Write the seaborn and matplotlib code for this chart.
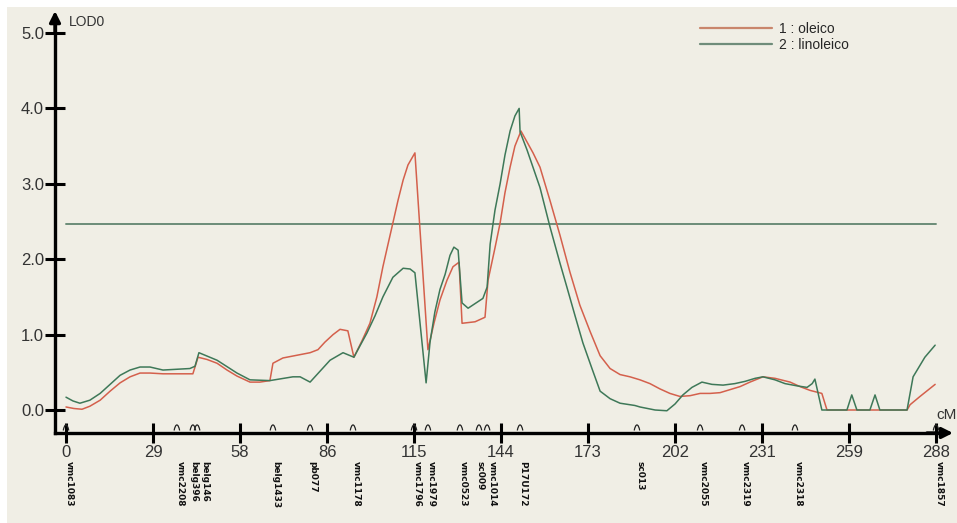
import numpy as np
import pandas as pd
import matplotlib
matplotlib.use("Agg")
import matplotlib.pyplot as plt
from matplotlib.patches import Rectangle
from matplotlib.path import Path
import seaborn as sns

# --- data (cM, LOD) ---
oleico_cm = [0, 2.6, 5.3, 7.9, 11.3, 14.6, 17.9, 21.2, 24.5, 27.8, 32.1, 42.0, 43.7, 46.7,
             50.0, 53.3, 56.6, 59.3, 60.9, 64.2, 67.5, 68.5, 71.8, 80.8, 83.4, 85.7, 88.4,
             90.7, 93.3, 95.3, 98.0, 100.6, 102.9, 104.9, 106.6, 108.2, 109.9, 111.6,
             113.2, 115.5, 119.8, 121.8, 123.8, 126.1, 128.1, 130.1, 131.1, 135.4, 138.7,
             139.7, 142.0, 143.7, 145.3, 147.0, 148.6, 150.6, 154.6, 156.9, 160.2, 163.5,
             166.8, 170.1, 173.5, 176.8, 180.1, 183.4, 186.7, 190.0, 193.3, 196.6, 199.9,
             203.2, 206.6, 209.9, 213.2, 216.5, 219.8, 223.1, 226.4, 230.7, 234.7, 239.7,
             243.0, 246.3, 250.2, 251.9, 278.4, 279.4, 282.7, 287.7]
oleico_lod = [0.04, 0.02, 0.01, 0.05, 0.13, 0.25, 0.36, 0.44, 0.49, 0.49, 0.48, 0.48, 0.70, 0.67,
              0.62, 0.53, 0.45, 0.40, 0.37, 0.37, 0.39, 0.62, 0.69, 0.76, 0.80, 0.90, 1.00,
              1.07, 1.05, 0.70, 0.92, 1.15, 1.50, 1.90, 2.20, 2.48, 2.78, 3.05,
              3.25, 3.41, 0.80, 1.15, 1.46, 1.72, 1.90, 1.96, 1.15, 1.17, 1.23,
              1.72, 2.15, 2.48, 2.88, 3.22, 3.50, 3.70, 3.41, 3.22, 2.78, 2.32,
              1.83, 1.39, 1.04, 0.72, 0.55, 0.47, 0.44, 0.40, 0.35, 0.28, 0.22,
              0.18, 0.19, 0.22, 0.22, 0.23, 0.27, 0.31, 0.37, 0.44, 0.42, 0.37,
              0.31, 0.26, 0.22, 0.0, 0.0, 0.07, 0.18, 0.34]

linoleico_cm = [0, 2.3, 4.6, 7.9, 11.3, 14.6, 17.9, 21.2, 24.5, 27.8, 32.1, 41.0, 42.7, 44.0,
                50.0, 56.6, 60.9, 67.5, 75.1, 77.5, 80.8, 87.4, 91.7, 95.3, 97.3, 99.6,
                102.3, 104.9, 108.2, 111.6, 113.9, 115.5, 119.2, 120.5, 122.1, 123.8, 125.5,
                127.1, 128.4, 129.8, 131.1, 133.1, 138.0, 139.4, 140.4, 142.0, 143.7, 145.3,
                147.0, 148.6, 150.0, 150.3, 152.6, 156.9, 160.2, 163.5, 165.8, 168.5, 171.1,
                174.1, 176.8, 180.1, 183.4, 188.3, 190.0, 195.0, 198.9, 201.6, 204.2, 207.2,
                210.5, 213.8, 217.5, 221.4, 224.8, 228.1, 230.7, 234.7, 238.0, 242.0, 245.3,
                247.0, 247.9, 250.2, 258.5, 260.1, 261.8, 266.1, 267.8, 269.4, 278.4, 280.4,
                284.3, 287.7]
linoleico_lod = [0.17, 0.12, 0.09, 0.13, 0.22, 0.34, 0.46, 0.53, 0.57, 0.57, 0.53, 0.55, 0.58, 0.76,
                 0.66, 0.49, 0.40, 0.39, 0.44, 0.44, 0.37, 0.66, 0.76, 0.70, 0.85, 1.02,
                 1.25, 1.50, 1.76, 1.88, 1.87, 1.82, 0.36, 0.90, 1.30, 1.60, 1.80,
                 2.05, 2.16, 2.12, 1.42, 1.35, 1.48, 1.63, 2.20, 2.65, 3.00, 3.38,
                 3.70, 3.90, 4.00, 3.69, 3.45, 2.95, 2.43, 1.95, 1.63, 1.25, 0.89,
                 0.55, 0.25, 0.15, 0.09, 0.06, 0.04, 0.0, -0.01, 0.08, 0.20, 0.30,
                 0.37, 0.34, 0.33, 0.35, 0.38, 0.42, 0.44, 0.40, 0.35, 0.32, 0.30,
                 0.35, 0.41, 0.0, 0.0, 0.20, 0.0, 0.0, 0.20, 0.0, 0.0, 0.44,
                 0.70, 0.86]

traits = ["1 : oleico", "2 : linoleico"]
threshold = 2.47

tick_pos = [0, 28.8, 57.6, 86.4, 115.2, 144.0, 172.8, 201.6, 230.4, 259.2, 288.0]
tick_labels = ["0", "29", "58", "86", "115", "144", "173", "202", "231", "259", "288"]
y_ticks = [0, 1, 2, 3, 4, 5]

marker_cm = [0, 36.7, 42.0, 43.4, 68.5, 80.8, 95.0, 115.2, 119.8, 130.4, 136.7, 139.4,
             150.3, 189.0, 209.9, 223.8, 241.3, 288.0]
marker_names = ["vmc1083", "vmc2208", "belg396", "belg146", "belg1433", "pb077", "vmc1178",
                "vmc1796", "vmc1979", "vmc0523", "sc009", "vmc1014", "P17U172", "sc013",
                "vmc2055", "vmc2319", "vmc2318", "vmc1857"]
# small horizontal nudges (cM) so crowded marker names do not sit on each other
label_nudge = {"belg396": -0.6, "belg146": 1.6, "sc009": -0.8, "vmc1014": 0.8}

df = pd.concat([
    pd.DataFrame({"cM": oleico_cm, "LOD": oleico_lod, "trait": traits[0]}),
    pd.DataFrame({"cM": linoleico_cm, "LOD": linoleico_lod, "trait": traits[1]}),
])

sns.set_theme(style="white")
plt.rcParams["font.family"] = ["Liberation Sans", "DejaVu Sans"]

W, H = 957, 523
fig = plt.figure(figsize=(W / 100, H / 100), dpi=100)
fig.patch.set_facecolor("white")
fig.patches.append(Rectangle((7 / W, 0), 950 / W, 516 / H, transform=fig.transFigure,
                             facecolor="#f0eee5", edgecolor="none", zorder=-10))

# pixel mapping: px = 66 + cM*3.021 ; py = 410 - LOD*75.4
left_px, right_px, top_px, bot_px = 45, 955, 10, 445
ax = fig.add_axes([left_px / W, (H - bot_px) / H, (right_px - left_px) / W, (bot_px - top_px) / H])
ax.set_facecolor("none")
ax.set_xlim((left_px - 66) / 3.021, (right_px - 66) / 3.021)
ax.set_ylim((410 - bot_px) / 75.4, (410 - top_px) / 75.4)

x_axis_y = -0.305
y_axis_x = -3.64

sns.lineplot(data=df, x="cM", y="LOD", hue="trait", palette=["#d4604c", "#3e7858"],
             linewidth=1.1, sort=False, estimator=None, ax=ax, legend=False)

ax.plot([0, 288], [threshold, threshold], color="#6b8c78", lw=1.4, zorder=1)

# axes with arrows
for s in ["top", "right"]:
    ax.spines[s].set_visible(False)
ax.spines["left"].set_position(("data", y_axis_x))
ax.spines["bottom"].set_position(("data", x_axis_y))
ax.spines["left"].set_bounds(x_axis_y, 5.2)
ax.spines["bottom"].set_bounds(y_axis_x, 290)
for s in ["left", "bottom"]:
    ax.spines[s].set_linewidth(2.4)
    ax.spines[s].set_color("black")
ax.annotate("", xy=(y_axis_x, (410 - 11) / 75.4), xytext=(y_axis_x, 5.0),
            arrowprops=dict(arrowstyle="-|>", color="black", lw=2.4, mutation_scale=16,
                            shrinkA=0, shrinkB=0), annotation_clip=False)
ax.annotate("", xy=((953 - 66) / 3.021, x_axis_y), xytext=(285, x_axis_y),
            arrowprops=dict(arrowstyle="-|>", color="black", lw=2.4, mutation_scale=16,
                            shrinkA=0, shrinkB=0), annotation_clip=False)

ax.set_xticks(tick_pos)
ax.set_xticklabels(tick_labels)
ax.set_yticks(y_ticks)
ax.set_yticklabels([f"{v:.1f}" for v in y_ticks])
ax.tick_params(axis="both", direction="inout", length=14, width=2.2, color="black",
               labelsize=12, labelcolor="#333333")
ax.tick_params(axis="x", pad=2)
ax.tick_params(axis="y", pad=1)
ax.xaxis.set_ticks_position("bottom")
ax.yaxis.set_ticks_position("left")
ax.set_xlabel("")
ax.set_ylabel("")

# marker arches on the axis
arch = Path([(-1, -1), (-0.6, 1), (0, 1), (0.6, 1), (1, -1)],
            [Path.MOVETO, Path.CURVE3, Path.CURVE3, Path.CURVE3, Path.CURVE3])
ax.scatter(marker_cm, [-0.235] * len(marker_cm), marker=arch, s=16,
           facecolors="none", edgecolors="#222222", linewidths=0.9, clip_on=False, zorder=3)

for xc, name in zip(marker_cm, marker_names):
    ax.text(xc + 1.0 + label_nudge.get(name, 0), (410 - 461) / 75.4, name, rotation=-90,
            ha="center", va="top", fontsize=6.5, fontweight="bold",
            family=["Liberation Sans Narrow", "DejaVu Sans"], color="#111111", clip_on=False)

ax.text((69 - 66) / 3.021, (410 - 22) / 75.4, "LOD0", fontsize=10, va="center", ha="left",
        color="#333333")
ax.text((936 - 66) / 3.021, (410 - 415) / 75.4, "cM", fontsize=11, va="center", ha="left",
        color="#333333", clip_on=False)

# legend drawn as in the original
leg_handles = [plt.Line2D([], [], color=c, lw=1.6) for c in ["#c9866c", "#6f8c7a"]]
ax.legend(leg_handles, traits, loc="upper left", bbox_to_anchor=(700 / W, 1 - 22 / H),
          bbox_transform=fig.transFigure, frameon=False, fontsize=10, handlelength=5.2,
          handletextpad=0.5, labelspacing=0.15, borderpad=0, borderaxespad=0)

fig.savefig("out.png", dpi=100, facecolor="white")
